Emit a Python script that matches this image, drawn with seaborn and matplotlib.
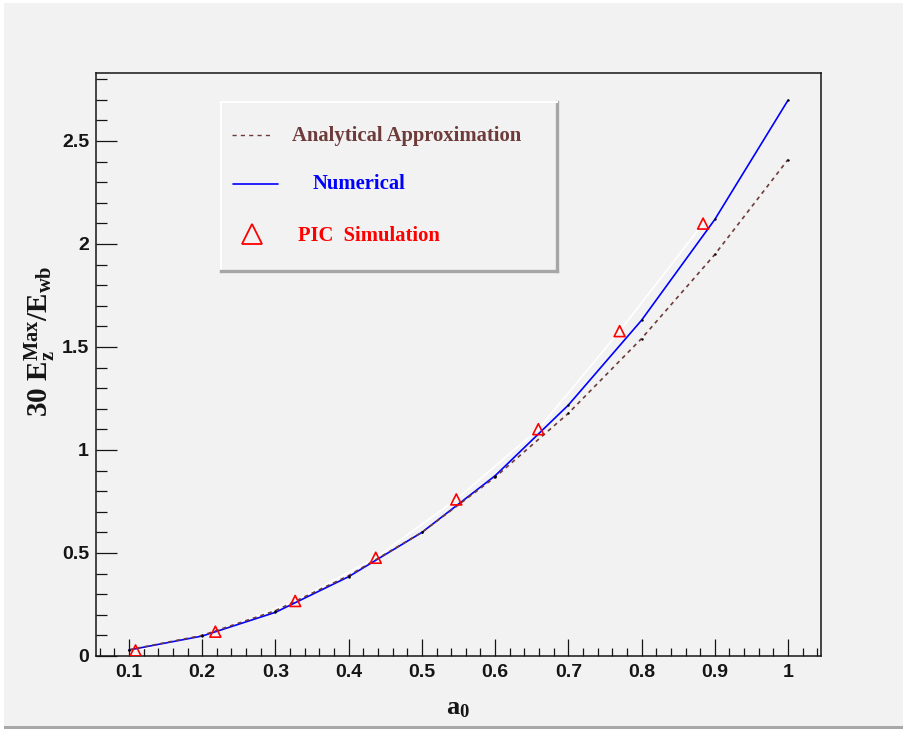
import matplotlib
matplotlib.use("Agg")
import matplotlib.pyplot as plt
import seaborn as sns
from matplotlib.patches import Rectangle
from matplotlib.ticker import MultipleLocator

# ---------------- data ----------------
a0_grid = [0.1, 0.2, 0.3, 0.4, 0.5, 0.6, 0.7, 0.8, 0.9, 1.0]
analytical = [0.030, 0.100, 0.220, 0.390, 0.600, 0.868, 1.178, 1.541, 1.949, 2.410]
numerical = [0.029, 0.097, 0.212, 0.385, 0.600, 0.875, 1.218, 1.630, 2.119, 2.698]
pic_a0 = [0.109, 0.218, 0.327, 0.437, 0.547, 0.659, 0.770, 0.884]
pic_val = [0.027, 0.118, 0.267, 0.477, 0.760, 1.101, 1.577, 2.099]

xticks = [0.1, 0.2, 0.3, 0.4, 0.5, 0.6, 0.7, 0.8, 0.9, 1.0]
xtick_labels = ["0.1", "0.2", "0.3", "0.4", "0.5", "0.6", "0.7", "0.8", "0.9", "1"]
yticks = [0, 0.5, 1.0, 1.5, 2.0, 2.5]
ytick_labels = ["0", "0.5", "1", "1.5", "2", "2.5"]

legend_labels = ["Analytical Approximation", "Numerical", "PIC  Simulation"]

BG = "#f2f2f2"
BROWN = "#6e3b3b"
BLUE = "#0000ff"
RED = "#ff0000"
AXC = "#151515"

sns.set_theme(style="ticks")
plt.rcParams["font.family"] = ["Liberation Sans", "DejaVu Sans"]
plt.rcParams["mathtext.fontset"] = "custom"
plt.rcParams["mathtext.rm"] = "Liberation Serif:bold"
plt.rcParams["mathtext.it"] = "Liberation Serif:bold"
plt.rcParams["mathtext.bf"] = "Liberation Serif:bold"

W, H = 904, 729
fig = plt.figure(figsize=(W / 100, H / 100), dpi=100, facecolor=BG)

# canvas bevel
fig.patches.append(Rectangle((0, 1 - 3 / H), 1, 3 / H, transform=fig.transFigure,
                             facecolor="white", edgecolor="none", zorder=0))
fig.patches.append(Rectangle((0, 0), 4 / W, 1, transform=fig.transFigure,
                             facecolor="white", edgecolor="none", zorder=0))
fig.patches.append(Rectangle((4 / W, 0), 1, 3 / H, transform=fig.transFigure,
                             facecolor="#a8a8a8", edgecolor="none", zorder=0))

L, R, T, B = 96, 821, 73, 656
ax = fig.add_axes([L / W, (H - B) / H, (R - L) / W, (B - T) / H])
ax.set_facecolor(BG)

# white connecting line of PIC points
sns.lineplot(x=pic_a0, y=pic_val, ax=ax, color="white", linewidth=1.2,
             sort=False, errorbar=None, zorder=1)
# numerical
sns.lineplot(x=a0_grid, y=numerical, ax=ax, color=BLUE, linewidth=1.2,
             sort=False, errorbar=None, zorder=2)
# analytical
sns.lineplot(x=a0_grid, y=analytical, ax=ax, color=BROWN, linewidth=1.2,
             linestyle=(0, (2.4, 2.4)), sort=False, errorbar=None, zorder=3)
# vertex dots
sns.scatterplot(x=a0_grid, y=numerical, ax=ax, color="black", s=3, linewidth=0, zorder=4)
sns.scatterplot(x=a0_grid, y=analytical, ax=ax, color="black", s=3, linewidth=0, zorder=4)
# PIC triangles
sns.scatterplot(x=pic_a0, y=pic_val, ax=ax, marker="^", s=62, facecolors="none",
                edgecolor=RED, linewidth=1.2, zorder=5)

ax.set_xlim(0.055, 1.045)
ax.set_ylim(0, 2.83)

ax.set_xticks(xticks, xtick_labels)
ax.set_yticks(yticks, ytick_labels)
ax.xaxis.set_minor_locator(MultipleLocator(0.02))
ax.yaxis.set_minor_locator(MultipleLocator(0.1))
for lab in ax.get_xticklabels() + ax.get_yticklabels():
    lab.set_fontfamily("Liberation Sans")
    lab.set_fontweight("bold")
    lab.set_fontsize(14)
    lab.set_color(AXC)

ax.tick_params(axis="x", which="major", direction="in", length=12.2, width=0.9,
               color=AXC, pad=6, top=False)
ax.tick_params(axis="x", which="minor", direction="in", length=6.0, width=0.9,
               color=AXC, top=False)
ax.tick_params(axis="y", which="major", direction="in", length=15.4, width=0.9,
               color=AXC, pad=5, right=False)
ax.tick_params(axis="y", which="minor", direction="in", length=7.7, width=0.9,
               color=AXC, right=False)
for s in ax.spines.values():
    s.set_visible(True)
    s.set_color(AXC)
    s.set_linewidth(1.1)

ax.set_xlabel(r"$\mathrm{a_0}$", fontsize=19, color=AXC)
ax.xaxis.set_label_coords(0.5, -0.068)
ax.set_ylabel(r"30 $\mathrm{E_z^{Max}/E_{wb}}$", fontsize=21,
              fontfamily="Liberation Serif", fontweight="bold", color=AXC)
ax.yaxis.set_label_coords(-0.052, 0.54)

# ---------------- legend box ----------------
lx0, ly0, lx1, ly1 = 221, 102, 557, 271
lg = fig.add_axes([lx0 / W, (H - ly1) / H, (lx1 - lx0) / W, (ly1 - ly0) / H])
lg.set_facecolor(BG)
lg.set_xlim(0, lx1 - lx0)
lg.set_ylim(ly1 - ly0, 0)
lg.set_xticks([])
lg.set_yticks([])
lg.spines["top"].set_color("white")
lg.spines["left"].set_color("white")
lg.spines["top"].set_linewidth(1.5)
lg.spines["left"].set_linewidth(1.5)
lg.spines["right"].set_color("#a6a6a6")
lg.spines["bottom"].set_color("#a6a6a6")
lg.spines["right"].set_linewidth(2.4)
lg.spines["bottom"].set_linewidth(2.4)

lg.plot([11, 52], [33, 33], color=BROWN, linewidth=1.0, linestyle=(0, (3.0, 3.0)))
lg.plot([12, 57], [82, 82], color=BLUE, linewidth=1.2)
lg.plot([31], [131.5], marker="^", markersize=14.5, markerfacecolor="none",
        markeredgecolor=RED, markeredgewidth=1.3, linestyle="none")

txt_kw = dict(fontfamily="Liberation Serif", fontweight="bold", fontsize=14.9, va="baseline")
lg.text(71, 38.7, legend_labels[0], color=BROWN, **txt_kw)
lg.text(92, 87.3, legend_labels[1], color=BLUE, **txt_kw)
lg.text(77, 139, legend_labels[2], color=RED, **txt_kw)

fig.savefig("out.png", dpi=100, facecolor=BG)
